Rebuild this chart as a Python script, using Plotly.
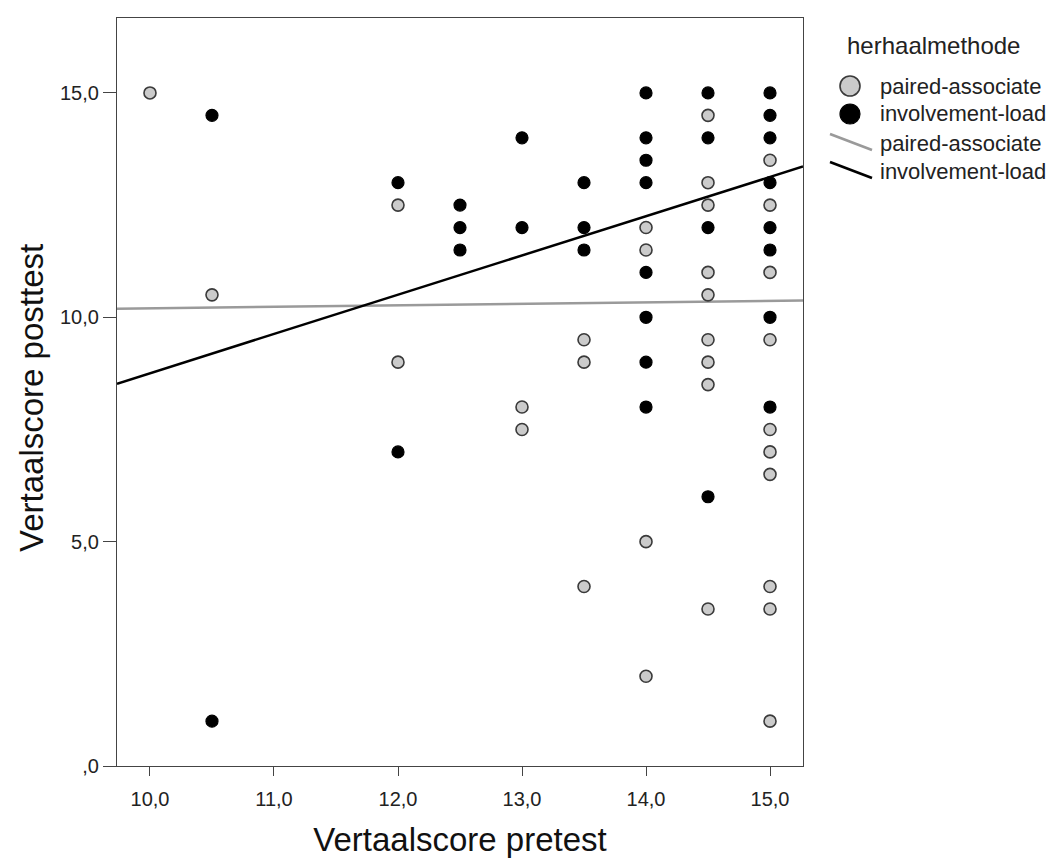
import plotly.graph_objects as go

# ---- data ----
paired_x = [10.0, 10.5, 12.0, 12.0, 13.0, 13.0, 13.5, 13.5, 13.5,
            14.0, 14.0, 14.0, 14.0,
            14.5, 14.5, 14.5, 14.5, 14.5, 14.5, 14.5, 14.5, 14.5,
            15.0, 15.0, 15.0, 15.0, 15.0, 15.0, 15.0, 15.0, 15.0, 15.0]
paired_y = [15.0, 10.5, 12.5, 9.0, 8.0, 7.5, 9.5, 9.0, 4.0,
            12.0, 11.5, 5.0, 2.0,
            14.5, 13.0, 12.5, 11.0, 10.5, 9.5, 9.0, 8.5, 3.5,
            13.5, 12.5, 11.0, 9.5, 7.5, 7.0, 6.5, 4.0, 3.5, 1.0]

involve_x = [10.5, 10.5, 12.0, 12.0, 12.5, 12.5, 12.5, 13.0, 13.0,
             13.5, 13.5, 13.5,
             14.0, 14.0, 14.0, 14.0, 14.0, 14.0, 14.0, 14.0,
             14.5, 14.5, 14.5, 14.5,
             15.0, 15.0, 15.0, 15.0, 15.0, 15.0, 15.0, 15.0]
involve_y = [14.5, 1.0, 13.0, 7.0, 12.5, 12.0, 11.5, 14.0, 12.0,
             13.0, 12.0, 11.5,
             15.0, 14.0, 13.5, 13.0, 11.0, 10.0, 9.0, 8.0,
             15.0, 14.0, 12.0, 6.0,
             15.0, 14.5, 14.0, 13.0, 12.0, 11.5, 10.0, 8.0]

# fit lines (intercept, slope)
paired_fit = (9.87, 0.033)
involve_fit = (0.003, 0.875)

x_range = [9.734, 15.266]
y_range = [0.0, 16.67]

x_tickvals = [10, 11, 12, 13, 14, 15]
x_ticktext = ["10,0", "11,0", "12,0", "13,0", "14,0", "15,0"]
y_tickvals = [0, 5, 10, 15]
y_ticktext = [",0", "5,0", "10,0", "15,0"]

group_names = ["paired-associate", "involvement-load"]
legend_title = "herhaalmethode"
x_title = "Vertaalscore pretest"
y_title = "Vertaalscore posttest"

FONT = "Arial, Liberation Sans, sans-serif"
GRAY_FILL = "#cbcbcb"
GRAY_EDGE = "#3a3a3a"
LINE_GRAY = "#9a9a9a"
TEXT = "#222222"

W, H = 1047, 859
ML, MR, MT, MB = 117, 244, 18, 93
PW, PH = W - ML - MR, H - MT - MB


def px(xp, yp):
    """pixel position on the page -> paper coordinates"""
    return (xp - ML) / PW, (H - MB - yp) / PH


fig = go.Figure()


def fit_line(params):
    a, b = params
    xs = x_range
    return xs, [a + b * v for v in xs]


lx, ly = fit_line(paired_fit)
fig.add_trace(go.Scatter(x=lx, y=ly, mode="lines", line=dict(color=LINE_GRAY, width=2.5),
                         name=group_names[0] + " fit", showlegend=False, hoverinfo="skip"))
lx, ly = fit_line(involve_fit)
fig.add_trace(go.Scatter(x=lx, y=ly, mode="lines", line=dict(color="#000000", width=2.5),
                         name=group_names[1] + " fit", showlegend=False, hoverinfo="skip"))

fig.add_trace(go.Scatter(x=involve_x, y=involve_y, mode="markers", name=group_names[1],
                         marker=dict(size=12, color="#000000", line=dict(color="#000000", width=1.2)),
                         showlegend=False))
fig.add_trace(go.Scatter(x=paired_x, y=paired_y, mode="markers", name=group_names[0],
                         marker=dict(size=12, color=GRAY_FILL, line=dict(color=GRAY_EDGE, width=1.6)),
                         showlegend=False))

# ---- legend drawn as text + symbols (matches the SPSS look) ----
annotations = []
shapes = []
tx, ty = px(845, 45)
annotations.append(dict(text=legend_title, x=tx, y=ty, xref="paper", yref="paper",
                        xanchor="left", yanchor="middle", showarrow=False,
                        font=dict(family=FONT, size=24, color=TEXT)))
row_y = [86, 114, 143, 171]
for i, name in enumerate(group_names + group_names):
    ax, ay = px(878, row_y[i])
    annotations.append(dict(text=name, x=ax, y=ay, xref="paper", yref="paper",
                            xanchor="left", yanchor="middle", showarrow=False,
                            font=dict(family=FONT, size=22, color=TEXT)))
# y axis title (placed to match the reference)
yx, yy = px(31, 398)
annotations.append(dict(text=y_title, x=yx, y=yy, xref="paper", yref="paper",
                        xanchor="center", yanchor="middle", textangle=-90, showarrow=False,
                        font=dict(family=FONT, size=33, color="#111111")))
# marker symbols
r = 10
for i, (fill, edge, lw) in enumerate([(GRAY_FILL, GRAY_EDGE, 1.6), ("#000000", "#000000", 1.2)]):
    x0, y0 = px(850 - r, row_y[i] + r)
    x1, y1 = px(850 + r, row_y[i] - r)
    shapes.append(dict(type="circle", xref="paper", yref="paper", x0=x0, y0=y0, x1=x1, y1=y1,
                       fillcolor=fill, line=dict(color=edge, width=lw)))
# line symbols
for i, col in enumerate([LINE_GRAY, "#000000"]):
    yc = row_y[2 + i] - 1
    x0, y0 = px(830, yc - 8)
    x1, y1 = px(872, yc + 8)
    shapes.append(dict(type="line", xref="paper", yref="paper", x0=x0, y0=y0, x1=x1, y1=y1,
                       line=dict(color=col, width=2.5)))

axis_common = dict(showgrid=False, zeroline=False, showline=True, linecolor="#444444",
                   linewidth=1.3, mirror=True, ticks="outside", tickcolor="#444444",
                   tickwidth=1.3, automargin=False,
                   tickfont=dict(family=FONT, size=20, color=TEXT))

fig.update_xaxes(range=x_range, tickvals=x_tickvals, ticktext=x_ticktext, ticklen=9,
                 ticklabelstandoff=6,
                 title=dict(text=x_title, font=dict(family=FONT, size=33, color="#111111"), standoff=18),
                 **axis_common)
fig.update_yaxes(range=y_range, tickvals=y_tickvals, ticktext=y_ticktext, ticklen=13,
                 ticklabelstandoff=0,
                 **axis_common)

fig.update_layout(
    width=W, height=H,
    margin=dict(l=ML, r=MR, t=MT, b=MB),
    plot_bgcolor="white", paper_bgcolor="white",
    font=dict(family=FONT, color=TEXT),
    showlegend=False,
    annotations=annotations,
    shapes=shapes,
)

fig.write_html("out.html")
